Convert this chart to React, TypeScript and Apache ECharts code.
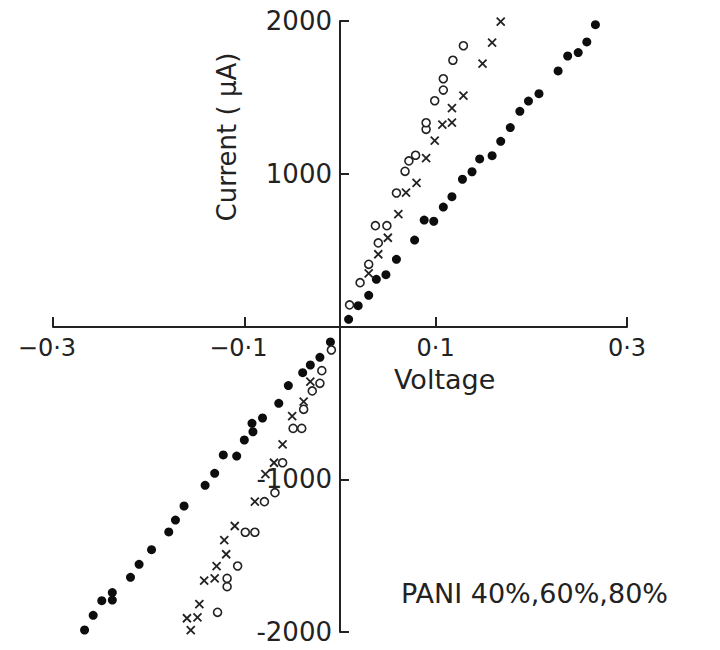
import React, { useEffect, useRef } from "react";
import * as echarts from "echarts";

// Voltage (V), Current (µA)
const filledPoints: [number, number][] = [
  [-0.267, -1987], [-0.258, -1891], [-0.249, -1795], [-0.238, -1791], [-0.238, -1742],
  [-0.219, -1642], [-0.21, -1557], [-0.197, -1461], [-0.179, -1345], [-0.172, -1267],
  [-0.163, -1175], [-0.141, -1040], [-0.131, -961], [-0.122, -841], [-0.108, -848],
  [-0.1, -743], [-0.091, -689], [-0.092, -634], [-0.081, -599], [-0.064, -503],
  [-0.054, -387], [-0.039, -302], [-0.031, -252], [-0.021, -202], [-0.01, -101],
  [0.009, 47], [0.019, 136], [0.03, 204], [0.038, 309], [0.048, 339], [0.059, 440],
  [0.078, 566], [0.088, 697], [0.098, 689], [0.108, 782], [0.117, 850], [0.128, 964],
  [0.138, 1013], [0.146, 1097], [0.159, 1118], [0.168, 1212], [0.178, 1302],
  [0.188, 1409], [0.197, 1476], [0.208, 1524], [0.228, 1673], [0.238, 1771],
  [0.249, 1793], [0.258, 1863], [0.267, 1976], [0.278, 2028],
];

const openPoints: [number, number][] = [
  [-0.128, -1871], [-0.118, -1703], [-0.118, -1649], [-0.107, -1568], [-0.099, -1347],
  [-0.089, -1347], [-0.079, -1147], [-0.068, -1088], [-0.06, -892], [-0.049, -667],
  [-0.04, -667], [-0.038, -542], [-0.029, -422], [-0.021, -372], [-0.019, -289],
  [-0.009, -154],
  [0.01, 141], [0.021, 287], [0.03, 407], [0.04, 547], [0.037, 660], [0.049, 660],
  [0.059, 874], [0.068, 1016], [0.072, 1084], [0.079, 1121], [0.09, 1291], [0.09, 1334],
  [0.099, 1478], [0.108, 1548], [0.108, 1622], [0.118, 1743], [0.129, 1838],
];

const crossPoints: [number, number][] = [
  [-0.156, -1987], [-0.16, -1910], [-0.149, -1904], [-0.147, -1817], [-0.142, -1664],
  [-0.131, -1649], [-0.129, -1568], [-0.119, -1491], [-0.121, -1398], [-0.11, -1306],
  [-0.089, -1147], [-0.078, -966], [-0.069, -892], [-0.06, -771], [-0.05, -586],
  [-0.038, -492], [-0.031, -361],
  [0.03, 348], [0.04, 473], [0.05, 581], [0.061, 735], [0.069, 876], [0.08, 941],
  [0.09, 1103], [0.099, 1217], [0.107, 1321], [0.117, 1334], [0.117, 1429],
  [0.129, 1511], [0.149, 1721], [0.159, 1858], [0.168, 1996],
];

const xTicks = [-0.3, -0.1, 0.1, 0.3];
const yTicks = [-2000, -1000, 1000, 2000];

const INK = "#222222";
const FONT = "DejaVu Sans";

export default function App() {
  const ref = useRef<HTMLDivElement>(null);

  useEffect(() => {
    if (!ref.current) return;
    const chart = echarts.init(ref.current, null, { renderer: "svg" });
    chart.setOption({
      animation: false,
      backgroundColor: "#ffffff",
      grid: {
        left: 53,
        right: 93,
        top: 21,
        bottom: 18,
        containLabel: false,
        outerBoundsMode: "none",
      },
      xAxis: {
        type: "value",
        min: -0.3,
        max: 0.3,
        position: "bottom",
        offset: -305,
        splitLine: { show: false },
        axisLine: { show: true, onZero: false, lineStyle: { color: INK, width: 2 } },
        axisTick: {
          show: true,
          inside: true,
          length: 10,
          customValues: xTicks,
          lineStyle: { color: INK, width: 2 },
        },
        axisLabel: {
          customValues: xTicks,
          margin: 9,
          color: INK,
          fontFamily: FONT,
          fontSize: 24,
          formatter: (v: number) => {
            const s = "0·" + Math.round(Math.abs(v) * 10);
            return v < 0 ? "{neg|−" + s + "}" : "{pos|" + s + "}";
          },
          rich: {
            neg: { fontFamily: FONT, fontSize: 24, color: INK, padding: [0, 12, 0, 0] },
            pos: { fontFamily: FONT, fontSize: 24, color: INK },
          },
        },
      },
      yAxis: {
        type: "value",
        min: -2000,
        max: 2000,
        position: "left",
        offset: -287,
        splitLine: { show: false },
        axisLine: { show: true, onZero: false, lineStyle: { color: INK, width: 2 } },
        axisTick: {
          show: true,
          inside: true,
          length: 9,
          customValues: yTicks,
          lineStyle: { color: INK, width: 2 },
        },
        axisLabel: {
          customValues: yTicks,
          margin: 8,
          color: INK,
          fontFamily: FONT,
          fontSize: 26,
          formatter: (v: number) => String(v),
        },
      },
      graphic: [
        {
          type: "text",
          left: 394,
          top: 366,
          style: { text: "Voltage", fontFamily: FONT, fontSize: 27, fill: INK },
        },
        {
          type: "text",
          x: 227,
          y: 137,
          rotation: Math.PI / 2,
          style: {
            text: "Current ( μA)",
            fontFamily: FONT,
            fontSize: 26,
            fill: INK,
            align: "center",
            verticalAlign: "middle",
          },
        },
        {
          type: "text",
          left: 401,
          top: 580,
          style: { text: "PANI 40%,60%,80%", fontFamily: FONT, fontSize: 27, fill: INK },
        },
      ],
      series: [
        {
          name: "filled",
          type: "scatter",
          data: filledPoints,
          symbol: "circle",
          symbolSize: 9,
          itemStyle: { color: "#0d0d0d", opacity: 1 },
        },
        {
          name: "open",
          type: "scatter",
          data: openPoints,
          symbol: "circle",
          symbolSize: 8,
          itemStyle: { color: "#ffffff", borderColor: INK, borderWidth: 1.6, opacity: 1 },
        },
        {
          name: "cross",
          type: "scatter",
          data: crossPoints,
          symbol: "path://M0,0L10,10M10,0L0,10",
          symbolSize: 8,
          itemStyle: { color: "none", borderColor: INK, borderWidth: 1.8, opacity: 1 },
        },
      ],
    });
    return () => chart.dispose();
  }, []);

  return (
    <div
      ref={ref}
      style={{ position: "absolute", left: 0, top: 0, width: 720, height: 650 }}
    />
  );
}
